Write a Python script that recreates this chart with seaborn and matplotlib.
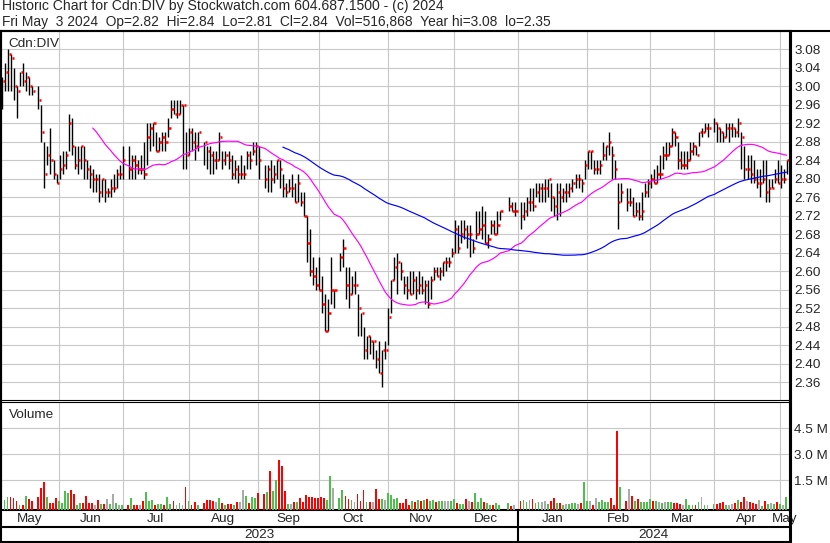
import numpy as np
import pandas as pd
import matplotlib
matplotlib.use("Agg")
import matplotlib.pyplot as plt
import matplotlib.transforms as mtransforms
from matplotlib.lines import Line2D
import seaborn as sns


# 1. Data (one row per month)
holidays = ["2023-05-22", "2023-07-03", "2023-08-07", "2023-09-04", "2023-10-09",
            "2023-12-25", "2023-12-26", "2024-01-01", "2024-02-19", "2024-03-29"]

close = [
    3.01, 3.03, 3.07, 3.06, 3.00, 2.99, 3.03, 3.01, 3.02, 3.00, 2.99, 2.97, 2.90, 2.81, 2.85, 2.84, 2.81, 2.79,
    2.82, 2.83, 2.85, 2.92, 2.87, 2.83, 2.84, 2.87, 2.84, 2.82, 2.81, 2.80, 2.80, 2.77, 2.80, 2.77, 2.77, 2.78, 2.78, 2.81, 2.81, 2.84,
    2.82, 2.84, 2.83, 2.82, 2.82, 2.81, 2.89, 2.91, 2.92, 2.86, 2.88, 2.89, 2.88, 2.91, 2.95, 2.94, 2.94, 2.96, 2.96, 2.85,
    2.90, 2.88, 2.87, 2.90, 2.88, 2.86, 2.85, 2.84, 2.84, 2.89, 2.84, 2.85, 2.84, 2.81, 2.82, 2.81, 2.81, 2.81, 2.85, 2.84, 2.86, 2.87,
    2.84, 2.80, 2.82, 2.80, 2.81, 2.84, 2.82, 2.78, 2.77, 2.78, 2.78, 2.75, 2.79, 2.75, 2.72, 2.66, 2.60, 2.59, 2.57, 2.56,
    2.53, 2.47, 2.51, 2.56, 2.56, 2.63, 2.65, 2.57, 2.55, 2.57, 2.57, 2.52, 2.51, 2.43, 2.46, 2.45, 2.45, 2.41, 2.38, 2.43, 2.43,
    2.50, 2.58, 2.61, 2.62, 2.60, 2.57, 2.56, 2.55, 2.58, 2.56, 2.57, 2.56, 2.57, 2.53, 2.58, 2.60, 2.59, 2.60, 2.62, 2.62, 2.62, 2.64,
    2.69, 2.65, 2.68, 2.69, 2.68, 2.68, 2.65, 2.68, 2.69, 2.70, 2.66, 2.67, 2.70, 2.68, 2.70, 2.73, 2.74, 2.73, 2.73,
    2.72, 2.73, 2.75, 2.75, 2.74, 2.77, 2.78, 2.78, 2.78, 2.80, 2.76, 2.74, 2.77, 2.76, 2.77, 2.77, 2.78, 2.79, 2.80, 2.80, 2.79, 2.83,
    2.86, 2.86, 2.82, 2.82, 2.83, 2.85, 2.87, 2.88, 2.85, 2.82, 2.75, 2.77, 2.75, 2.75, 2.72, 2.73, 2.72, 2.73, 2.77, 2.79,
    2.80, 2.79, 2.81, 2.81, 2.85, 2.85, 2.87, 2.90, 2.89, 2.84, 2.83, 2.83, 2.84, 2.86, 2.87, 2.85, 2.90, 2.90, 2.91, 2.91,
    2.92, 2.91, 2.90, 2.89, 2.91, 2.91, 2.91, 2.90, 2.92, 2.89, 2.82, 2.82, 2.81, 2.80, 2.79, 2.79, 2.80, 2.77, 2.78, 2.78, 2.80, 2.79,
    2.80, 2.80, 2.84,
]

high = [
    3.02, 3.05, 3.08, 3.07, 3.04, 3.00, 3.03, 3.05, 3.03, 3.02, 3.00, 3.00, 2.96, 2.88, 2.87, 2.91, 2.84, 2.81,
    2.85, 2.86, 2.86, 2.94, 2.93, 2.87, 2.87, 2.87, 2.87, 2.84, 2.83, 2.82, 2.81, 2.81, 2.80, 2.80, 2.78, 2.80, 2.81, 2.82, 2.83, 2.87,
    2.87, 2.85, 2.85, 2.84, 2.85, 2.88, 2.92, 2.92, 2.92, 2.90, 2.89, 2.90, 2.90, 2.93, 2.97, 2.97, 2.97, 2.97, 2.96, 2.90,
    2.91, 2.91, 2.90, 2.90, 2.88, 2.87, 2.87, 2.86, 2.86, 2.90, 2.86, 2.86, 2.86, 2.85, 2.84, 2.83, 2.85, 2.83, 2.86, 2.86, 2.88, 2.88,
    2.87, 2.83, 2.83, 2.84, 2.83, 2.84, 2.84, 2.81, 2.79, 2.80, 2.81, 2.79, 2.81, 2.77, 2.77, 2.72, 2.69, 2.63, 2.61, 2.63,
    2.59, 2.55, 2.54, 2.63, 2.56, 2.64, 2.67, 2.61, 2.61, 2.59, 2.60, 2.55, 2.51, 2.48, 2.46, 2.46, 2.45, 2.43, 2.45, 2.43, 2.45,
    2.52, 2.58, 2.63, 2.64, 2.62, 2.59, 2.59, 2.60, 2.60, 2.59, 2.60, 2.59, 2.58, 2.58, 2.59, 2.61, 2.61, 2.61, 2.62, 2.63, 2.63, 2.65,
    2.71, 2.70, 2.71, 2.71, 2.70, 2.70, 2.67, 2.73, 2.73, 2.74, 2.73, 2.68, 2.71, 2.71, 2.73, 2.73, 2.76, 2.75, 2.75,
    2.75, 2.75, 2.76, 2.78, 2.78, 2.79, 2.79, 2.79, 2.80, 2.80, 2.79, 2.76, 2.79, 2.79, 2.78, 2.79, 2.79, 2.80, 2.81, 2.81, 2.80, 2.84,
    2.86, 2.86, 2.84, 2.84, 2.84, 2.88, 2.87, 2.90, 2.87, 2.84, 2.79, 2.79, 2.78, 2.78, 2.76, 2.75, 2.75, 2.77, 2.79, 2.80,
    2.81, 2.82, 2.83, 2.85, 2.87, 2.88, 2.88, 2.91, 2.90, 2.88, 2.86, 2.86, 2.86, 2.88, 2.88, 2.87, 2.90, 2.91, 2.92, 2.92,
    2.93, 2.92, 2.91, 2.90, 2.92, 2.92, 2.92, 2.91, 2.93, 2.90, 2.87, 2.85, 2.85, 2.84, 2.82, 2.82, 2.84, 2.84, 2.80, 2.80, 2.82, 2.84,
    2.83, 2.82, 2.84,
]

low = [
    2.95, 2.99, 2.99, 2.99, 2.97, 2.93, 3.00, 3.00, 2.99, 2.98, 2.98, 2.95, 2.88, 2.78, 2.83, 2.81, 2.80, 2.79,
    2.80, 2.81, 2.82, 2.86, 2.85, 2.82, 2.81, 2.82, 2.80, 2.80, 2.78, 2.77, 2.77, 2.75, 2.76, 2.75, 2.76, 2.76, 2.77, 2.78, 2.80, 2.80,
    2.80, 2.80, 2.80, 2.81, 2.81, 2.80, 2.83, 2.86, 2.87, 2.86, 2.86, 2.86, 2.86, 2.89, 2.93, 2.94, 2.93, 2.94, 2.82, 2.82,
    2.85, 2.86, 2.84, 2.86, 2.83, 2.82, 2.81, 2.81, 2.82, 2.84, 2.82, 2.83, 2.82, 2.80, 2.80, 2.79, 2.80, 2.80, 2.82, 2.82, 2.85, 2.83,
    2.80, 2.78, 2.77, 2.77, 2.79, 2.80, 2.78, 2.76, 2.76, 2.77, 2.76, 2.75, 2.75, 2.74, 2.72, 2.62, 2.59, 2.57, 2.56, 2.56,
    2.51, 2.47, 2.47, 2.53, 2.52, 2.60, 2.61, 2.54, 2.52, 2.55, 2.55, 2.46, 2.46, 2.41, 2.41, 2.42, 2.41, 2.39, 2.38, 2.35, 2.41,
    2.44, 2.51, 2.58, 2.55, 2.58, 2.55, 2.54, 2.55, 2.55, 2.54, 2.55, 2.55, 2.53, 2.52, 2.54, 2.58, 2.59, 2.58, 2.59, 2.60, 2.61, 2.63,
    2.64, 2.64, 2.66, 2.67, 2.65, 2.63, 2.64, 2.67, 2.68, 2.67, 2.66, 2.65, 2.68, 2.68, 2.68, 2.71, 2.73, 2.73, 2.72,
    2.69, 2.71, 2.72, 2.73, 2.73, 2.76, 2.75, 2.75, 2.75, 2.76, 2.73, 2.72, 2.71, 2.72, 2.75, 2.75, 2.76, 2.77, 2.78, 2.78, 2.77, 2.80,
    2.82, 2.82, 2.81, 2.81, 2.81, 2.84, 2.84, 2.85, 2.80, 2.80, 2.69, 2.75, 2.73, 2.74, 2.72, 2.72, 2.71, 2.71, 2.76, 2.76,
    2.78, 2.79, 2.79, 2.80, 2.82, 2.84, 2.85, 2.87, 2.87, 2.82, 2.82, 2.82, 2.82, 2.84, 2.85, 2.85, 2.87, 2.89, 2.90, 2.89,
    2.90, 2.88, 2.88, 2.88, 2.89, 2.88, 2.89, 2.89, 2.89, 2.82, 2.80, 2.80, 2.79, 2.79, 2.78, 2.76, 2.79, 2.75, 2.75, 2.78, 2.79, 2.79,
    2.78, 2.79, 2.81,
]

# volume in millions of shares
volume = [
    0.08, 0.37, 0.56, 0.56, 0.46, 0.31, 0.08, 0.08, 0.60, 0.42, 0.31, 0.56, 1.08, 1.42, 0.56, 0.21, 0.21, 0.46,
    0.31, 0.21, 0.88, 0.79, 0.94, 0.69, 0.05, 0.21, 0.21, 0.60, 0.21, 0.17, 0.05, 0.37, 0.13, 0.13, 0.42, 0.13, 0.71, 0.17, 0.05, 0.08,
    0.08, 0.48, 0.08, 0.08, 0.08, 0.31, 0.81, 0.31, 0.37, 0.08, 0.13, 0.13, 0.08, 0.54, 0.13, 0.31, 0.08, 0.21, 0.05, 1.12,
    0.31, 0.08, 0.27, 0.08, 0.21, 0.37, 0.37, 0.31, 0.27, 0.48, 0.21, 0.08, 0.13, 0.13, 0.08, 0.27, 0.27, 0.92, 0.60, 0.21, 0.54, 0.48,
    0.77, 0.73, 0.83, 2.04, 0.88, 1.50, 2.67, 2.33, 0.87, 0.13, 0.13, 0.25, 0.25, 0.48, 0.25, 0.65, 0.54, 0.54, 0.48, 0.46,
    0.54, 0.48, 0.37, 1.75, 1.06, 0.48, 0.94, 0.60, 0.40, 0.37, 0.25, 0.71, 0.31, 0.94, 0.25, 0.23, 0.23, 1.00, 0.42, 0.42, 0.37,
    0.77, 0.65, 0.42, 0.48, 0.17, 0.17, 0.42, 0.08, 0.31, 0.23, 0.38, 0.33, 0.35, 0.40, 0.33, 0.35, 0.23, 0.31, 0.31, 0.31, 0.31, 0.31,
    0.42, 0.19, 0.13, 0.13, 0.42, 0.31, 0.23, 0.77, 0.25, 0.48, 0.25, 0.19, 0.08, 0.08, 0.21, 0.05, 0.21, 0.03, 0.05,
    0.31, 0.37, 0.23, 0.38, 0.42, 0.17, 0.23, 0.27, 0.31, 0.12, 0.31, 0.46, 0.17, 0.17, 0.08, 0.13, 0.13, 0.17, 0.17, 0.13, 0.17, 1.38,
    0.31, 0.31, 0.10, 0.46, 0.23, 0.38, 0.27, 0.27, 0.46, 0.05, 4.35, 1.12, 0.31, 0.98, 0.60, 0.31, 0.42, 0.23, 0.23, 0.23,
    0.42, 0.31, 0.31, 0.23, 0.17, 0.27, 0.23, 0.23, 0.19, 0.19, 0.12, 0.08, 0.42, 0.08, 0.08, 0.08, 0.23, 0.54, 0.08, 0.08,
    0.13, 0.13, 0.19, 0.23, 0.08, 0.08, 0.12, 0.17, 0.35, 0.27, 0.54, 0.31, 0.23, 0.19, 0.12, 0.35, 0.02, 0.31, 0.15, 0.17, 0.15, 0.27,
    0.12, 0.08, 0.52,
]

header_1 = "Historic Chart for Cdn:DIV by Stockwatch.com 604.687.1500 - (c) 2024"
header_2 = "Fri May  3 2024  Op=2.82  Hi=2.84  Lo=2.81  Cl=2.84  Vol=516,868  Year hi=3.08  lo=2.35"
price_ticks = [2.36, 2.40, 2.44, 2.48, 2.52, 2.56, 2.60, 2.64, 2.68, 2.72, 2.76, 2.80,
               2.84, 2.88, 2.92, 2.96, 3.00, 3.04, 3.08]
volume_ticks = [1.5, 3.0, 4.5]

# 2. Build the frame (x = weekday slot, holidays leave a gap)
dates = pd.bdate_range("2023-05-05", "2024-05-03")
dates = dates[~dates.isin(pd.to_datetime(holidays))]
origin = np.datetime64("2023-05-01")
slot = np.busday_count(origin, dates.values.astype("datetime64[D]"))

df = pd.DataFrame({"date": dates, "slot": slot, "close": close, "high": high,
                   "low": low, "volume": volume})
df["x"] = df["slot"] - 0.3
df["ma30"] = df["close"].rolling(30).mean()
df["ma90"] = df["close"].rolling(90).mean()
chg = df["close"].diff().round(4)
GREEN, RED, GREY = "#4cbf4c", "#ff0000", "#aaaaaa"
df["vcol"] = np.where(chg > 0, GREEN, np.where(chg < 0, RED, GREY))

# month gridlines
month_starts = pd.date_range("2023-06-01", "2024-05-01", freq="MS")
grid_x = []
for ms in month_starts:
    first_wd = np.busday_offset(np.datetime64(ms.date()), 0, roll="forward")
    s = np.busday_count(origin, first_wd)
    grid_x.append(s - 0.5 - (0.85 if ms.weekday() >= 5 else 0.0))

# 3. Figure
sns.set_style("white")
plt.rcParams["font.family"] = ["Liberation Sans", "DejaVu Sans"]
FS = 9.7
GRID = "#c8c8c8"

W, H = 830, 543
fig = plt.figure(figsize=(W / 100, H / 100), dpi=100)


def fx(px):
    return px / W


def fy(py):
    return 1 - py / H


x_lo, x_hi = 3.3, 264.75
left_px, right_px = 1, 789.9

ax_p = fig.add_axes([fx(left_px), fy(400), fx(right_px) - fx(left_px), fy(31) - fy(400)])
ax_v = fig.add_axes([fx(left_px), fy(510), fx(right_px) - fx(left_px), fy(402) - fy(510)])

# price panel: high-low bars with a red close tick
ax_p.vlines(df["x"], df["low"], df["high"], color="black", lw=1.0, zorder=3)
ax_p.hlines(df["close"], df["x"] + 0.1, df["x"] + 0.85, color=RED, lw=1.8, zorder=4)
sns.lineplot(data=df.dropna(subset=["ma30"]), x="x", y="ma30", ax=ax_p, color="#ff00ff", lw=0.85, zorder=5)
sns.lineplot(data=df.dropna(subset=["ma90"]), x="x", y="ma90", ax=ax_p, color="#0000ff", lw=0.85, zorder=5)

ax_p.set_xlim(x_lo, x_hi)
ax_p.set_ylim(2.3215, 3.119)
ax_p.set_yticks(price_ticks)
ax_p.set_yticklabels([f"{t:.2f}" for t in price_ticks])
ax_p.set_xticks(grid_x)
ax_p.yaxis.tick_right()
ax_p.tick_params(axis="y", length=0, pad=3, labelsize=FS)
ax_p.tick_params(axis="x", length=0, labelbottom=False)
ax_p.grid(True, color=GRID, lw=0.8)
ax_p.set_axisbelow(True)
ax_p.set_xlabel("")
ax_p.set_ylabel("")
ax_p.text(0.009, 0.982, "Cdn:DIV", transform=ax_p.transAxes, fontsize=FS, va="top", ha="left")

# volume panel
vbot = -0.213
ax_v.bar(df["x"] - 0.25, df["volume"] - vbot, bottom=vbot, width=0.62,
         color=df["vcol"], linewidth=0, zorder=3)
ax_v.set_xlim(x_lo, x_hi)
ax_v.set_ylim(vbot, 6.017)
ax_v.set_yticks(volume_ticks)
ax_v.set_yticklabels([f"{t:.1f} M" for t in volume_ticks])
ax_v.set_xticks(grid_x)
ax_v.yaxis.tick_right()
ax_v.tick_params(axis="y", length=0, pad=3, labelsize=FS)
ax_v.tick_params(axis="x", length=0, labelbottom=False)
ax_v.grid(True, color=GRID, lw=0.8)
ax_v.set_axisbelow(True)
ax_v.text(0.01, 0.875, "Volume", transform=ax_v.transAxes, fontsize=FS, va="center", ha="left")

for ax, widths in ((ax_p, (1.5, 2.2, 1.5, 0.8)), (ax_v, (1.5, 2.2, 0.8, 1.5))):
    for side, w in zip(("left", "right", "top", "bottom"), widths):
        ax.spines[side].set_color("black")
        ax.spines[side].set_linewidth(w)

# month and year labels under the volume panel
trans = mtransforms.blended_transform_factory(ax_v.transData, ax_v.transAxes)
edges = [x_lo] + grid_x + [x_hi]
labels = ["May"] + [m.strftime("%b") for m in month_starts]
for a, b, lab in zip(edges[:-1], edges[1:], labels):
    ax_v.text((a + b) / 2, -0.079, lab, transform=trans, ha="center", va="center",
              fontsize=FS, clip_on=False)
jan_x = grid_x[7]
ax_v.text((x_lo + jan_x) / 2, -0.227, "2023", transform=trans, ha="center", va="center", fontsize=FS)
ax_v.text((jan_x + x_hi) / 2, -0.227, "2024", transform=trans, ha="center", va="center", fontsize=FS)
ax_v.add_line(Line2D([jan_x, jan_x], [0, -0.297], transform=trans, color="black", lw=1.5, clip_on=False))

# frame lines
for (x0, y0, x1, y1, lw) in [(0, 31, W, 31, 1.5), (0, 527, right_px, 527, 1.5),
                             (0, 542, right_px, 542, 1.5), (right_px, 31, right_px, 543, 2.2),
                             (left_px, 31, left_px, 543, 1.5)]:
    fig.add_artist(Line2D([fx(x0), fx(x1)], [fy(y0), fy(y1)], color="black", lw=lw))

# header
fig.text(fx(2), fy(10.3), header_1, fontsize=10.1, va="baseline", ha="left")
fig.text(fx(2), fy(26.3), header_2, fontsize=9.9, va="baseline", ha="left")

fig.savefig("out.png", dpi=100)
